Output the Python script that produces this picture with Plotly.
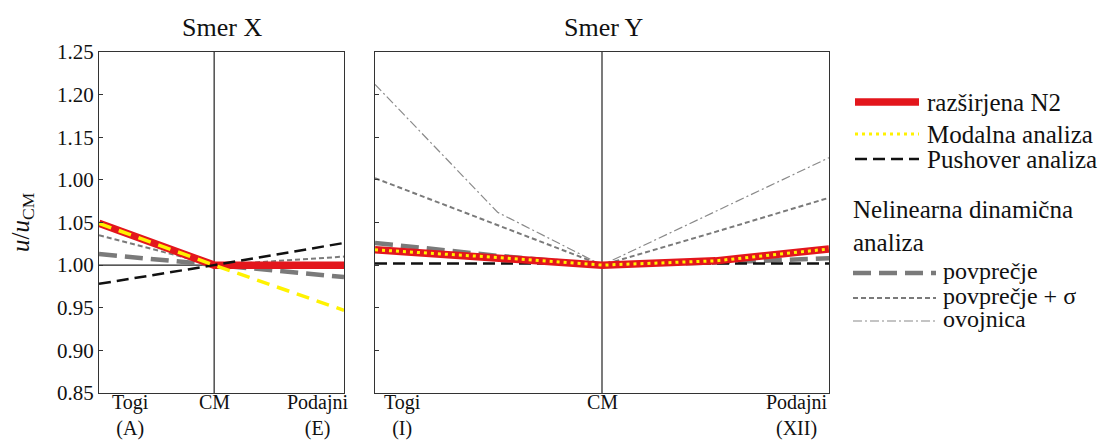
import plotly.graph_objects as go

# ---------------- data ----------------
# Smer X: positions Togi (A), CM, Podajni (E)
pos_x = [0.0, 0.47, 1.0]
n2_x = [1.049, 1.0, 1.0]
modal_x = [1.049, 1.0, 0.947]
push_x = [0.978, 1.0, 1.026]
mean_x = [1.013, 1.0, 0.986]
meansig_x = [1.035, 1.0, 1.010]

# Smer Y: positions Togi (I) ... CM ... Podajni (XII)
pos_y = [0.0, 0.27, 0.5, 0.75, 1.0]
n2_y = [1.018, 1.009, 1.0, 1.005, 1.019]
modal_y = [1.018, 1.009, 1.0, 1.005, 1.019]
push_y = [1.002, 1.002, 1.002, 1.002, 1.002]
mean_y = [1.026, 1.011, 1.0, 1.003, 1.008]
meansig_y = [1.102, 1.047, 1.0, 1.039, 1.079]
env_y = [1.212, 1.062, 1.0, 1.063, 1.126]

y_tickvals = [0.85, 0.90, 0.95, 1.00, 1.05, 1.10, 1.15, 1.20, 1.25]
y_ticktext = ["0.85", "0.90", "0.95", "1.00", "1.05", "1.00", "1.15", "1.20", "1.25"]

xlab_left_pos = [0.127, 0.47, 0.894]
xlab_left = ["Togi<br>(A)", "CM<br> ", "Podajni<br>(E)"]
xlab_right_pos = [0.06, 0.5, 0.93]
xlab_right = ["Togi<br>(I)", "CM<br> ", "Podajni<br>(XII)"]

legend_main = ["razširjena N2", "Modalna analiza", "Pushover analiza"]
legend_group = "Nelinearna dinamična<br>analiza"
legend_nl = ["povprečje", "povprečje + σ", "ovojnica"]

# ---------------- styles ----------------
OFF = 8  # page body margin
W, H = 1112 - OFF, 441 - OFF
FONT = "Liberation Serif"
RED = "#e3161c"
YEL = "#fff200"
BLK = "#111111"
GRY = "#7a7a7a"

st_n2 = dict(color=RED, width=7.5)
st_modal_dash = dict(color=YEL, width=3.5, dash="13px,8px")
st_modal_dot = dict(color=YEL, width=3, dash="3px,4px")
st_push = dict(color=BLK, width=2.5, dash="12px,6px")
st_mean = dict(color=GRY, width=4.5, dash="18px,8px")
st_meansig = dict(color=GRY, width=2, dash="5px,3px")
st_env = dict(color="#8a8a8a", width=1.2, dash="9px,3px,2px,3px")


def px(x):
    return (x - OFF) / W


def py(y):
    return 1 - (y - OFF) / H


fig = go.Figure()


def add(x, y, line, xa, ya):
    fig.add_trace(go.Scatter(x=x, y=y, mode="lines", line=line,
                             xaxis=xa, yaxis=ya, showlegend=False,
                             hoverinfo="skip"))


# left panel (Smer X)
add(pos_x, meansig_x, st_meansig, "x", "y")
add(pos_x, mean_x, st_mean, "x", "y")
add(pos_x, n2_x, st_n2, "x", "y")
add(pos_x, push_x, st_push, "x", "y")
add(pos_x, modal_x, st_modal_dash, "x", "y")

# right panel (Smer Y)
add(pos_y, env_y, st_env, "x2", "y2")
add(pos_y, meansig_y, st_meansig, "x2", "y2")
add(pos_y, mean_y, st_mean, "x2", "y2")
add(pos_y, push_y, st_push, "x2", "y2")
add(pos_y, n2_y, st_n2, "x2", "y2")
add(pos_y, modal_y, st_modal_dot, "x2", "y2")

ydom = [py(393), py(52)]
axis_common = dict(showline=True, linecolor="#333333", linewidth=1.3, mirror=True,
                   showgrid=False, zeroline=False, automargin=False)
tickfont = dict(family=FONT, size=21, color="#111111")
xlabfont = dict(family=FONT, size=20, color="#111111")

fig.update_layout(
    template="none",
    width=W, height=H,
    margin=dict(l=0, r=0, t=0, b=0, autoexpand=False),
    paper_bgcolor="white", plot_bgcolor="white",
    showlegend=False,
    xaxis=dict(domain=[px(99), px(344)], range=[0, 1], showticklabels=False,
               ticks="", anchor="y", **axis_common),
    yaxis=dict(domain=ydom, range=[0.85, 1.25], tickmode="array",
               tickvals=y_tickvals, ticktext=y_ticktext, ticks="inside",
               ticklen=4, tickcolor="#333333", tickfont=tickfont,
               anchor="x", **axis_common),
    xaxis2=dict(domain=[px(375), px(829)], range=[0, 1], showticklabels=False,
                ticks="", anchor="y2", **axis_common),
    yaxis2=dict(domain=ydom, range=[0.85, 1.25], tickmode="array",
                tickvals=y_tickvals, showticklabels=False, ticks="inside",
                ticklen=4, tickcolor="#333333", anchor="x2", **axis_common),
)

# x category labels
for xr, pos, labs in (("x", xlab_left_pos, xlab_left),
                      ("x2", xlab_right_pos, xlab_right)):
    for p, lab in zip(pos, labs):
        fig.add_annotation(text=lab, x=p, y=py(415), xref=xr, yref="paper",
                           xanchor="center", yanchor="middle", showarrow=False,
                           font=xlabfont)

# reference lines
fig.add_shape(type="line", xref="x", yref="y", x0=pos_x[1], x1=pos_x[1], y0=0.85, y1=1.25,
              line=dict(color="#222222", width=1.2), layer="below")
fig.add_shape(type="line", xref="x", yref="y", x0=0, x1=1, y0=1.0, y1=1.0,
              line=dict(color="#222222", width=1.2), layer="below")
fig.add_shape(type="line", xref="x2", yref="y2", x0=pos_y[2], x1=pos_y[2], y0=0.85, y1=1.25,
              line=dict(color="#222222", width=1.2), layer="below")

# titles
title_font = dict(family=FONT, size=26, color="#111111")
fig.add_annotation(text="Smer X", x=px(222), y=py(27), xref="paper", yref="paper",
                   xanchor="center", yanchor="middle", showarrow=False, font=title_font)
fig.add_annotation(text="Smer Y", x=px(603), y=py(27), xref="paper", yref="paper",
                   xanchor="center", yanchor="middle", showarrow=False, font=title_font)
fig.add_annotation(text="<i>u</i>/<i>u</i><sub>CM</sub>", x=px(22), y=py(222),
                   xref="paper", yref="paper", xanchor="center", yanchor="middle",
                   showarrow=False, textangle=-90,
                   font=dict(family=FONT, size=25, color="#111111"))

# legend (manual)
leg_font = dict(family=FONT, size=25, color="#111111")
nl_font = dict(family=FONT, size=24, color="#111111")
main_styles = [st_n2, st_modal_dot, st_push]
main_y = [102, 134, 159]
for lab, stl, yy in zip(legend_main, main_styles, main_y):
    fig.add_shape(type="line", xref="paper", yref="paper", x0=px(855), x1=px(919),
                  y0=py(yy), y1=py(yy), line=stl)
    fig.add_annotation(text=lab, x=px(925), y=py(yy), xref="paper", yref="paper",
                       xanchor="left", yanchor="middle", showarrow=False, font=leg_font)

fig.add_annotation(text=legend_group, x=px(851), y=py(226), xref="paper", yref="paper",
                   xanchor="left", yanchor="middle", align="left", showarrow=False,
                   font=leg_font)

nl_styles = [st_mean, st_meansig, st_env]
nl_y = [273, 298, 321]
for lab, stl, yy in zip(legend_nl, nl_styles, nl_y):
    fig.add_shape(type="line", xref="paper", yref="paper", x0=px(853), x1=px(936),
                  y0=py(yy), y1=py(yy), line=stl)
    fig.add_annotation(text=lab, x=px(941), y=py(yy - 2), xref="paper", yref="paper",
                       xanchor="left", yanchor="middle", showarrow=False, font=nl_font)

fig.write_html("out.html")
